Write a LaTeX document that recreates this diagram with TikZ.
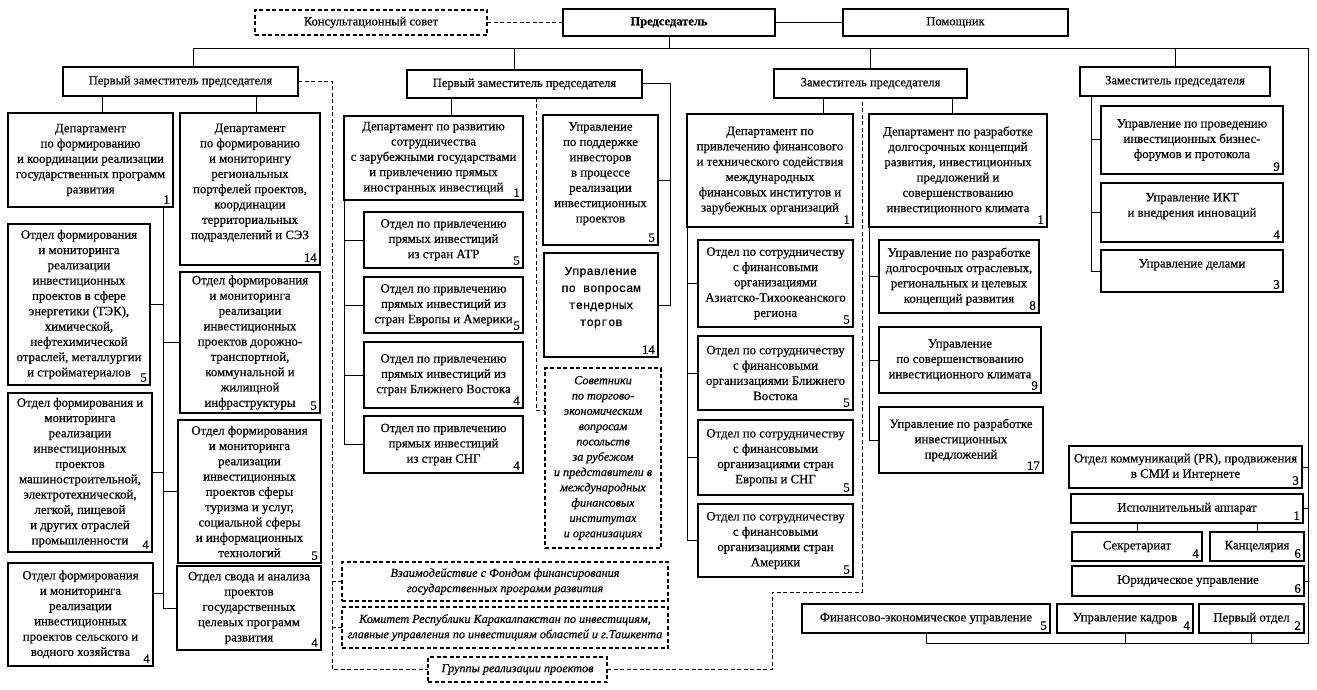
\documentclass[tikz,border=0pt]{standalone}
\usepackage{fontspec}
\setmainfont{Liberation Serif}[FakeBold=0.5]
\newfontfamily\monofnt{Liberation Mono}[FakeBold=0.8]
\newcommand\fs{\fontsize{12.8}{15.3}\selectfont}
\newcommand\fsi{\fontsize{12.2}{15.3}\selectfont\itshape}
\newcommand\fst{\fontsize{12.5}{14}\selectfont}
\tikzset{
 box/.style={draw, line width=1.1pt, inner sep=0pt, outer sep=0pt, align=center, font=\fs},
 dbox/.style={box, dash pattern=on 4pt off 2.5pt},
 num/.style={label={[anchor=south east, inner sep=3pt, font=\fs]south east:#1}},
 conn/.style={line width=1pt},
 dconn/.style={line width=1pt, dash pattern=on 4pt off 2.5pt},
}
\newcommand\bx[7][]{\node[box,minimum width={#5-#3},minimum height={#6-#4},#1] (#2) at ({(#3+#5)/2},{(#4+#6)/2}) {#7};}
\begin{document}
\begin{tikzpicture}[x=1pt,y=-1pt]
\useasboundingbox[fill=white] (0,0) rectangle (1317,690);
% top row
\bx[dbox,font=\fst]{konsult}{255}{10}{487}{35}{Консультационный совет}
\bx[font=\fst\bfseries]{pred}{563}{9}{775}{36}{Председатель}
\bx[font=\fst]{pomosh}{843}{9}{1068}{36}{Помощник}
% deputies
\bx[font=\fst]{fd1}{63}{67}{298}{96}{Первый заместитель председателя}
\bx[font=\fst]{fd2}{407}{70}{642}{98}{Первый заместитель председателя}
\bx[font=\fst]{zam3}{774}{69}{967}{98}{Заместитель председателя}
\bx[font=\fst]{zam4}{1080}{67}{1270}{96}{Заместитель председателя}
% column 1
\bx[num=1]{dep1}{8}{113}{173}{207}{Департамент\\по формированию\\и координации реализации\\государственных программ\\развития}
\bx[num=14]{dep2}{180}{113}{320}{265}{Департамент\\по формированию\\и мониторингу\\региональных\\портфелей проектов,\\координации\\территориальных\\подразделений и СЭЗ\\\mbox{}}
\bx[num=5]{l1}{8}{224}{150}{385}{Отдел формирования\\и мониторинга\\реализации\\инвестиционных\\проектов в сфере\\энергетики (ТЭК),\\химической,\\нефтехимической\\отраслей, металлургии\\и стройматериалов}
\bx[num=4]{l2}{8}{393}{152}{552}{Отдел формирования и\\мониторинга\\реализации\\инвестиционных\\проектов\\машиностроительной,\\электротехнической,\\легкой, пищевой\\и других отраслей\\промышленности}
\bx[num=4]{l3}{8}{563}{153}{666}{Отдел формирования\\и мониторинга\\реализации\\инвестиционных\\проектов сельского и\\водного хозяйства}
\bx[num=5]{r2}{180}{272}{320}{413}{Отдел формирования\\и мониторинга\\реализации\\инвестиционных\\проектов дорожно-\\транспортной,\\коммунальной и\\жилищной\\инфраструктуры}
\bx[num=5]{r3}{178}{420}{321}{563}{Отдел формирования\\и мониторинга\\реализации\\инвестиционных\\проектов сферы\\туризма и услуг,\\социальной сферы\\и информационных\\технологий}
\bx[num=4]{r4}{177}{566}{321}{650}{Отдел свода и анализа\\проектов\\государственных\\целевых программ\\развития}
% column 2
\bx[num=1]{dep3}{344}{116}{523}{200}{Департамент по развитию\\сотрудничества\\с зарубежными государствами\\и привлечению прямых\\иностранных инвестиций}
\bx[num=5]{m1}{364}{212}{523}{268}{Отдел по привлечению\\прямых инвестиций\\из стран АТР}
\bx[num=5]{m2}{364}{277}{523}{333}{Отдел по привлечению\\прямых инвестиций из\\стран Европы и Америки\hspace{6pt}}
\bx[num=4]{m3}{364}{342}{523}{408}{Отдел по привлечению\\прямых инвестиций из\\стран Ближнего Востока}
\bx[num=4]{m4}{364}{416}{523}{473}{Отдел по привлечению\\прямых инвестиций\\из стран СНГ}
\bx[num=5]{u1}{543}{115}{658}{245}{Управление\\по поддержке\\инвесторов\\в процессе\\реализации\\инвестиционных\\проектов\\\mbox{}}
\bx[num=14,font=\monofnt\fontsize{12}{17}\selectfont]{u2}{544}{253}{658}{357}{Управление\\по вопросам\\тендерных\\торгов\\\mbox{}}
\bx[dbox,font=\fsi]{sovet}{545}{368}{661}{548}{Советники\\по торгово-\\экономическим\\вопросам\\посольств\\за рубежом\\и представители в\\международных\\финансовых\\институтах\\и организациях}
\bx[dbox,font=\fsi]{vzaim}{342}{562}{668}{601}{Взаимодействие с Фондом финансирования\\государственных программ развития}
\bx[dbox,font=\fsi]{komitet}{342}{607}{668}{648}{Комитет Республики Каракалпакстан по инвестициям,\\главные управления по инвестициям областей и г.Ташкента}
\bx[dbox,font=\fsi]{gruppy}{428}{657}{607}{682}{Группы реализации проектов}
% column 3
\bx[num=1]{dep4}{687}{114}{853}{227}{Департамент по\\привлечению финансового\\и технического содействия\\международных\\финансовых институтов и\\зарубежных организаций}
\bx[num=5]{f1}{698}{240}{853}{327}{Отдел по сотрудничеству\\с финансовыми\\организациями\\Азиатско-Тихоокеанского\\региона}
\bx[num=5]{f2}{698}{336}{853}{410}{Отдел по сотрудничеству\\с финансовыми\\организациями Ближнего\\Востока}
\bx[num=5]{f3}{698}{420}{853}{495}{Отдел по сотрудничеству\\с финансовыми\\организациями стран\\Европы и СНГ}
\bx[num=5]{f4}{698}{504}{853}{577}{Отдел по сотрудничеству\\с финансовыми\\организациями стран\\Америки}
% column 4
\bx[num=1]{dep5}{869}{114}{1047}{227}{Департамент по разработке\\долгосрочных концепций\\развития, инвестиционных\\предложений и\\совершенствованию\\инвестиционного климата}
\bx[num=8]{g1}{879}{240}{1039}{313}{Управление по разработке\\долгосрочных отраслевых,\\региональных и целевых\\концепций развития}
\bx[num=9]{g2}{879}{327}{1041}{393}{Управление\\по совершенствованию\\инвестиционного климата}
\bx[num=17]{g3}{879}{407}{1043}{473}{Управление по разработке\\инвестиционных\\предложений}
% column 5
\bx[num=9]{z1}{1101}{106}{1283}{174}{Управление по проведению\\инвестиционных бизнес-\\форумов и протокола}
\bx[num=4]{z2}{1101}{183}{1283}{242}{Управление ИКТ\\и внедрения инноваций\\\mbox{}}
\bx[num=3]{z3}{1101}{250}{1283}{292}{Управление делами\\\mbox{}}
\bx[num=3]{pr}{1069}{446}{1302}{488}{Отдел коммуникаций (PR), продвижения\\в СМИ и Интернете}
\bx[num=1]{isp}{1071}{494}{1303}{523}{Исполнительный аппарат}
\bx[num=4]{sekr}{1072}{532}{1202}{561}{Секретариат}
\bx[num=6]{kanc}{1210}{532}{1304}{561}{Канцелярия}
\bx[num=6]{yur}{1072}{566}{1304}{596}{Юридическое управление}
\bx[num=5]{fin}{802}{604}{1050}{633}{Финансово-экономическое управление}
\bx[num=4]{kadr}{1057}{604}{1193}{633}{Управление кадров}
\bx[num=2]{perv}{1199}{604}{1304}{633}{Первый отдел}
% coordinates
\coordinate (busL) at (193,49);
\coordinate (busR) at (1308,49);
\coordinate (busB) at (1308,643);
% top connectors
\draw[dconn] (konsult.east) -- (konsult.east -| pred.west);
\draw[conn] (pred.east) -- (pred.east -| pomosh.west);
\draw[conn] (pred.south) -- (pred.south |- busL);
\draw[conn] (busL |- fd1.north) -- (busL) -- (busR) -- (busB) -| (fin.south);
\draw[conn] (514,0 |- busL) -- (514,0 |- fd2.north);
\draw[conn] (zam3.north |- busL) -- (zam3.north);
\draw[conn] (zam4.north |- busL) -- (zam4.north);
\draw[conn] (kadr.south) -- (kadr.south |- busB);
\draw[conn] (perv.south) -- (perv.south |- busB);
\draw[conn] (pr.east) -- (pr.east -| busR);
\draw[conn] (isp.east) -- (isp.east -| busR);
\draw[conn] (yur.east) -- (yur.east -| busR);
\draw[conn] (sekr.north) -- (sekr.north |- isp.south);
\draw[conn] (kanc.north) -- (kanc.north |- isp.south);
% column 1
\draw[conn] (102,0 |- fd1.south) -- (102,0 |- dep1.north);
\draw[conn] (256,0 |- fd1.south) -- (256,0 |- dep2.north);
\draw[conn] (163,0 |- dep1.south) -- (163,0 |- r4.west) -- (r4.west);
\draw[conn] (l1.east) -- (163,0 |- l1.east);
\draw[conn] (l2.east) -- (163,0 |- l2.east);
\draw[conn] (l3.east |- 0,593) -- (163,593);
\draw[conn] (r2.west) -- (163,0 |- r2.west);
\draw[conn] (r3.west) -- (163,0 |- r3.west);
% column 2
\draw[conn] (451,0 |- fd2.south) -- (451,0 |- dep3.north);
\draw[conn] (dep3.south west) |- (m4.west);
\draw[conn] (m1.west) -- (m1.west -| dep3.west);
\draw[conn] (m2.west) -- (m2.west -| dep3.west);
\draw[conn] (m3.west) -- (m3.west -| dep3.west);
\draw[conn] (fd2.east) -| (670,0 |- u2.east) -- (u2.east);
\draw[conn] (u1.east) -- (670,0 |- u1.east);
\draw[dconn] (536,0 |- fd2.south) -- (536,410) -- (sovet.west |- 0,410);
\draw[dconn] (fd1.east) -| (332,0 |- gruppy.west) -- (gruppy.west);
\draw[dconn] (vzaim.west) -- (vzaim.west -| 332,0);
\draw[dconn] (komitet.west) -- (komitet.west -| 332,0);
\draw[dconn] (gruppy.east) -- (772,0 |- gruppy.east) -- (772,592) -- (862,592) -- (862,0 |- zam3.south);
% column 3/4
\draw[conn] (823,0 |- zam3.south) -- (823,0 |- dep4.north);
\draw[conn] (952,0 |- zam3.south) -- (952,0 |- dep5.north);
\draw[conn] (dep4.south west) |- (f4.west);
\draw[conn] (f1.west) -- (f1.west -| dep4.west);
\draw[conn] (f2.west) -- (f2.west -| dep4.west);
\draw[conn] (f3.west) -- (f3.west -| dep4.west);
\draw[conn] (dep5.south west) |- (g3.west);
\draw[conn] (g1.west) -- (g1.west -| dep5.west);
\draw[conn] (g2.west) -- (g2.west -| dep5.west);
% column 5
\draw[conn] (1091,0 |- zam4.south) |- (z3.west);
\draw[conn] (z1.west) -- (z1.west -| 1091,0);
\draw[conn] (z2.west) -- (z2.west -| 1091,0);
\end{tikzpicture}
\end{document}
